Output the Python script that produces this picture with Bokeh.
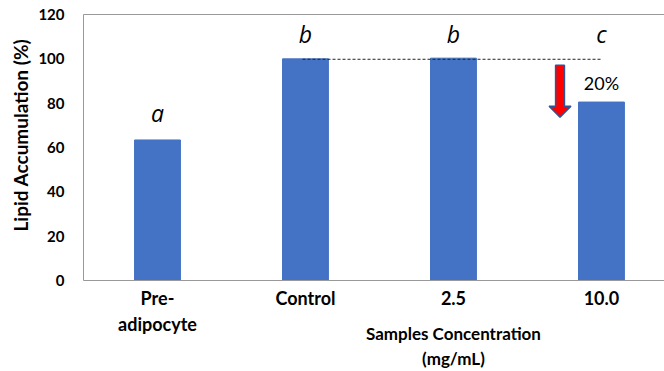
from bokeh.plotting import figure
from bokeh.models import Range1d, FixedTicker, LinearAxis
from bokeh.core.properties import value
from bokeh.embed import file_html
from bokeh.resources import INLINE

# ---- data ----
categories = ["Pre-\nadipocyte", "Control", "2.5", "10.0"]
values = [63.4, 100.0, 100.3, 80.5]
letters = ["a", "b", "b", "c"]
letter_y = [75.5, 111.0, 111.0, 111.0]
y_ticks = [0, 20, 40, 60, 80, 100, 120]
reduction_label = "20%"
ref_level = 99.8
x_title = "Samples Concentration\n(mg/mL)"
y_title = "Lipid Accumulation (%)"

FONT = "Lato"
BAR_COLOR = "#4472c4"
FRAME_COLOR = "#999999"

x_idx = list(range(len(categories)))

p = figure(width=664, height=371, output_backend="svg", toolbar_location=None,
           x_range=Range1d(-0.5, 3.426), y_range=Range1d(0, 120),
           min_border_left=83, min_border_right=0, min_border_top=14,
           min_border_bottom=90)
p.outline_line_color = None
p.xgrid.visible = False
p.ygrid.visible = False
p.background_fill_color = "white"
p.border_fill_color = "white"

# bars
p.vbar(x=x_idx, top=values, width=0.31, fill_color=BAR_COLOR, line_color=BAR_COLOR)

# dashed reference line from Control to 10.0
p.line(x=[x_idx[1] - 0.02, x_idx[3]], y=[ref_level, ref_level],
       line_color="#222222", line_width=1, line_dash="3 2")

# significance letters
p.text(x=x_idx, y=letter_y, text=letters, text_font=value("Open Sans"),
       text_font_style="italic", text_font_size="23px", text_align="center",
       text_baseline="alphabetic", text_color="black")

# 20% label
p.text(x=[x_idx[3]], y=[89.0], text=[reduction_label], text_font=value(FONT),
       text_font_size="18px", text_align="center", text_baseline="middle",
       text_color="black")

# red down arrow
ax, a_top, a_base, a_tip = 2.72, 97.1, 78.6, 73.7
sw, hw = 0.030, 0.074
p.patch(x=[ax - sw, ax + sw, ax + sw, ax + hw, ax, ax - hw, ax - sw],
        y=[a_top, a_top, a_base, a_base, a_tip, a_base, a_base],
        fill_color="#ff0000", line_color="#2f5597", line_width=1.5)

def style_axis(a, size, standoff):
    a.major_tick_line_color = None
    a.minor_tick_line_color = None
    a.major_tick_out = 0
    a.major_tick_in = 0
    a.major_label_standoff = standoff
    a.major_label_text_font = FONT
    a.major_label_text_font_style = "bold"
    a.major_label_text_font_size = size
    a.major_label_text_color = "black"

# y axis
ya = p.yaxis[0]
ya.ticker = FixedTicker(ticks=y_ticks)
style_axis(ya, "15px", 19)
ya.axis_line_color = FRAME_COLOR

# x axis
xa = p.xaxis[0]
xa.ticker = FixedTicker(ticks=x_idx)
xa.major_label_overrides = {i: c for i, c in zip(x_idx, categories)}
style_axis(xa, "18px", 6)
xa.axis_line_color = FRAME_COLOR

# x axis title, centred under the 2.5 category
xt = LinearAxis(ticker=FixedTicker(ticks=[2.0]), major_label_overrides={2.0: x_title},
                axis_line_color=None)
style_axis(xt, "17px", -15)
p.add_layout(xt, "below")

# y axis title
yt = LinearAxis(ticker=FixedTicker(ticks=[65.6]), major_label_overrides={65.6: y_title},
                axis_line_color=None, major_label_orientation="vertical")
style_axis(yt, "19px", 3)
p.add_layout(yt, "left")

# top frame line
top = LinearAxis(ticker=FixedTicker(ticks=[]), axis_line_color=FRAME_COLOR)
style_axis(top, "0px", 0)
p.add_layout(top, "above")

open("out.html", "w").write(file_html(p, INLINE))
